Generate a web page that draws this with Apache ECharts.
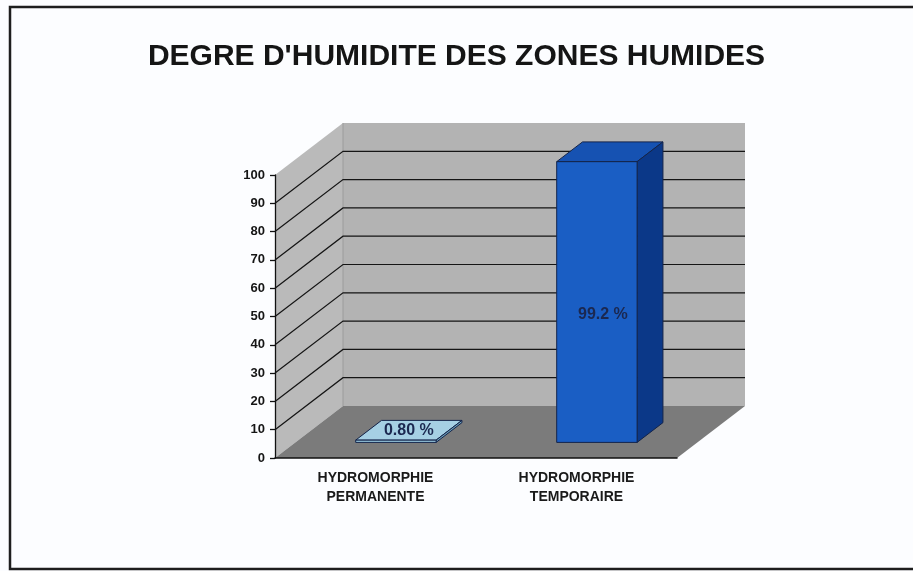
<!DOCTYPE html>
<html>
<head>
<meta charset="utf-8">
<title>DEGRE D'HUMIDITE DES ZONES HUMIDES</title>
<script src="https://cdn.jsdelivr.net/npm/echarts@6/dist/echarts.min.js"></script>
<style>
	html, body { margin: 0; padding: 0; background: #fcfdff; }
	#chart { width: 913px; height: 571px; }
</style>
</head>
<body>
<div id="chart"></div>
<script>
	// data
	var categories = ['HYDROMORPHIE\nPERMANENTE', 'HYDROMORPHIE\nTEMPORAIRE']
	var values = [0.8, 99.2]
	var valueLabels = ['0.80 %', '99.2 %']
	var gridValues = [10, 20, 30, 40, 50, 60, 70, 80, 90]

	// 3d look: depth offset of the back wall, bars sit between two depths
	var DX = 68, DY = -52
	var DEPTH_FRONT = 0.3, DEPTH_BACK = 0.68
	var BAR_RATIO = 0.4
	var FONT = '"Liberation Sans", Arial, sans-serif'

	var frontColors = ['#96c6dc', '#1a5ec4']
	var topColors = ['#a6d0e4', '#1652b2']
	var sideColors = ['#6d9fba', '#0b3888']

	function renderWalls(params, api) {
		var cs = params.coordSys
		var L = cs.x, R = cs.x + cs.width
		var y0 = api.coord([0, 0])[1]
		var y100 = api.coord([0, 100])[1]
		return {
			type: 'group',
			children: [
				{ type: 'rect', shape: { x: L + DX, y: y100 + DY, width: R - L, height: y0 - y100 }, style: { fill: '#b3b3b3' } },
				{ type: 'polygon', shape: { points: [[L, y0], [L, y100], [L + DX, y100 + DY], [L + DX, y0 + DY]] }, style: { fill: '#bababa' } },
				{ type: 'polygon', shape: { points: [[L, y0], [R, y0], [R + DX, y0 + DY], [L + DX, y0 + DY]] }, style: { fill: '#7b7b7b' } },
				{ type: 'line', shape: { x1: L + DX, y1: y100 + DY, x2: L + DX, y2: y0 + DY }, style: { stroke: '#9c9c9c', lineWidth: 1 } }
			]
		}
	}

	function renderGridLine(params, api) {
		var cs = params.coordSys
		var L = cs.x, R = cs.x + cs.width
		var y = api.coord([0, api.value(1)])[1]
		return {
			type: 'polyline',
			shape: { points: [[L, y], [L + DX, y + DY], [R + DX, y + DY]] },
			style: { stroke: '#151515', lineWidth: 1.2, fill: null }
		}
	}

	function renderBar(params, api) {
		var i = api.value(0)
		var v = api.value(1)
		var base = api.coord([i, 0])
		var top = api.coord([i, v])
		var w = api.size([1, 0])[0] * BAR_RATIO
		var fx = DEPTH_FRONT * DX, fy = DEPTH_FRONT * DY
		var bx = DEPTH_BACK * DX, by = DEPTH_BACK * DY
		var x0 = base[0] - w / 2, x1 = base[0] + w / 2
		var edge = '#14244a'

		var fits = (base[1] - top[1]) > 24
		var lx, ly
		if (fits) {
			lx = (x0 + x1) / 2 + fx + 6
			ly = (top[1] + base[1]) / 2 - 3
		} else {
			lx = (x0 + x1) / 2 + (fx + bx) / 2
			ly = top[1] + (fy + by) / 2
		}

		return {
			type: 'group',
			children: [
				{ type: 'polygon', shape: { points: [[x0 + fx, top[1] + fy], [x1 + fx, top[1] + fy], [x1 + bx, top[1] + by], [x0 + bx, top[1] + by]] },
					style: { fill: topColors[i], stroke: edge, lineWidth: 1 } },
				{ type: 'polygon', shape: { points: [[x1 + fx, top[1] + fy], [x1 + bx, top[1] + by], [x1 + bx, base[1] + by], [x1 + fx, base[1] + fy]] },
					style: { fill: sideColors[i], stroke: edge, lineWidth: 1 } },
				{ type: 'rect', shape: { x: x0 + fx, y: top[1] + fy, width: w, height: base[1] - top[1] },
					style: { fill: frontColors[i], stroke: edge, lineWidth: 1 } },
				{ type: 'text', x: lx, y: ly,
					style: { text: valueLabels[i], fill: '#1b2850', font: 'bold 16px ' + FONT, align: 'center', verticalAlign: 'middle' } }
			]
		}
	}

	var option = {
		animation: false,
		backgroundColor: '#fcfdff',
		title: {
			text: "DEGRE D'HUMIDITE DES ZONES HUMIDES",
			left: 'center',
			top: 37,
			padding: [5, 5, 5, 15],
			textStyle: { fontFamily: FONT, fontWeight: 'bold', fontSize: 30, color: '#151515' }
		},
		graphic: [
			{ type: 'rect', z: -1, shape: { x: 10, y: 7, width: 920, height: 562 }, style: { fill: null, stroke: '#1e1e1e', lineWidth: 2.5 } }
		],
		grid: { left: 275, top: 175, width: 402, height: 283 },
		xAxis: {
			type: 'category',
			data: categories,
			z: 10,
			axisLine: { lineStyle: { color: '#111', width: 1.5 } },
			axisTick: { show: false },
			axisLabel: { margin: 11, lineHeight: 19, fontFamily: FONT, fontWeight: 'bold', fontSize: 14, color: '#1a1a1a' },
			splitLine: { show: false }
		},
		yAxis: {
			type: 'value',
			min: 0,
			max: 100,
			interval: 10,
			z: 10,
			axisLine: { show: true, lineStyle: { color: '#111', width: 1.3 } },
			axisTick: { show: true, length: 5, lineStyle: { color: '#111', width: 1.3 } },
			axisLabel: { margin: 10, fontFamily: FONT, fontWeight: 'bold', fontSize: 13, color: '#151515' },
			splitLine: { show: false }
		},
		series: [
			{ type: 'custom', name: 'walls', z: 1, silent: true, renderItem: renderWalls, data: [[0, 0]] },
			{ type: 'custom', name: 'grid', z: 2, silent: true, renderItem: renderGridLine, data: gridValues.map(function (g) { return [0, g] }) },
			{ type: 'custom', name: 'bars', z: 3, renderItem: renderBar, data: values.map(function (v, i) { return [i, v] }) }
		]
	}

	var chart = echarts.init(document.getElementById('chart'))
	chart.setOption(option)
</script>
</body>
</html>
